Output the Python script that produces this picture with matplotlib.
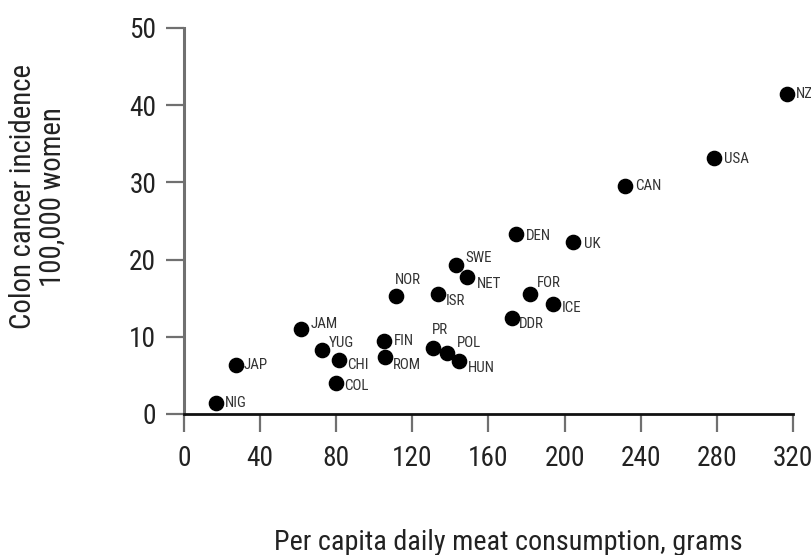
import matplotlib
matplotlib.use('Agg')
import matplotlib.pyplot as plt
from matplotlib import font_manager
from matplotlib.font_manager import FontProperties
from matplotlib.textpath import TextPath

# Meat consumption (g/day) vs colon cancer incidence per 100,000 women
countries = ['NIG', 'JAP', 'JAM', 'YUG', 'CHI', 'COL', 'FIN', 'ROM', 'PR', 'POL',
             'HUN', 'NOR', 'ISR', 'SWE', 'NET', 'DEN', 'UK', 'FOR', 'ICE', 'DDR',
             'CAN', 'USA', 'NZ']
meat = [16.8, 27.3, 61.5, 72.5, 81.5, 79.9, 105.1, 105.6, 130.8, 138.2,
        144.5, 111.4, 133.5, 142.9, 148.7, 174.5, 204.4, 181.8, 193.9, 172.4,
        231.7, 278.5, 316.9]
incidence = [1.4, 6.3, 11.0, 8.3, 7.0, 4.0, 9.5, 7.4, 8.5, 7.9,
             6.9, 15.3, 15.5, 19.3, 17.7, 23.3, 22.3, 15.5, 14.2, 12.4,
             29.5, 33.2, 41.5]

x_ticks = [0, 40, 80, 120, 160, 200, 240, 280, 320]
y_ticks = [0, 10, 20, 30, 40, 50]

# label offsets from each dot, in pixels
label_offsets = [(9, 0), (8, 0), (10, 5), (7, 7), (8, -5), (8, -3), (10, 0), (8, -8),
                 (-1, 18), (10, 10), (9, -7), (-1, 16), (8, -7), (9, 7), (10, -7),
                 (10, -2), (11, -2), (7, 11), (9, -4), (7, -6), (10, 0), (10, -1),
                 (9, 0)]


def pick_font():
    # prefer a narrow regular sans, fall back to condensed DejaVu
    fonts = font_manager.fontManager.ttflist
    for want in ['Liberation Sans Narrow', 'Roboto Condensed', 'Open Sans Condensed',
                 'Noto Sans Condensed', 'DejaVu Sans Condensed']:
        for f in fonts:
            if f.name == want and f.weight in (400, 'normal', 'regular') and f.style == 'normal':
                return FontProperties(fname=f.fname)
    for f in fonts:
        if f.stretch == 'condensed' and f.style == 'normal' and f.weight in (400, 'normal'):
            return FontProperties(fname=f.fname)
    for f in fonts:
        if f.name == 'DejaVu Sans' and 'Condensed' in f.fname and 'Bold' not in f.fname \
                and 'Oblique' not in f.fname:
            return FontProperties(fname=f.fname)
    return FontProperties(family='DejaVu Sans')


def fit_size(fp, text, width_px, height_px, ref='E'):
    # font size (pt) so the text ink fits the given pixel width and cap height
    w = TextPath((0, 0), text, size=100, prop=fp).get_extents().width
    h = TextPath((0, 0), ref, size=100, prop=fp).get_extents().height
    return min(width_px * 72 / w, height_px * 72 / h)


fp = pick_font()
tick_size = fit_size(fp, '120', 38, 20, ref='0')
xlabel_size = fit_size(fp, 'Per capita daily meat consumption, grams', 471, 20, ref='P')
ylabel_size = fit_size(fp, 'Colon cancer incidence', 283, 21, ref='C')
point_size = fit_size(fp, 'DEN', 23, 13)

fig = plt.figure(figsize=(8.12, 5.55), dpi=100)
ax = fig.add_axes([184 / 812, 1 - 414 / 555, (793 - 184) / 812, (414 - 28) / 555])

ax.scatter(meat, incidence, s=105, color='black', zorder=3, clip_on=False)

for name, x, y, off in zip(countries, meat, incidence, label_offsets):
    ax.annotate(name, (x, y), xytext=off, textcoords='offset pixels',
                ha='left', va='center', fontproperties=fp, fontsize=point_size,
                color='#333333', annotation_clip=False)

ax.set_xlim(0, 320)
ax.set_ylim(0, 50)
ax.set_xticks(x_ticks)
ax.set_yticks(y_ticks)

for side in ['top', 'right']:
    ax.spines[side].set_visible(False)
ax.spines['left'].set_color('#707070')
ax.spines['left'].set_linewidth(2.2)
ax.spines['bottom'].set_color('#111111')
ax.spines['bottom'].set_linewidth(2.0)

ax.tick_params(axis='both', direction='out', length=13, width=1.6,
               color='#707070', labelcolor='#222222')
ax.tick_params(axis='y', pad=7)
ax.tick_params(axis='x', pad=9)
for lab in ax.get_xticklabels() + ax.get_yticklabels():
    lab.set_fontproperties(fp)
    lab.set_fontsize(tick_size)

fig.text(508 / 812, 5 / 555, 'Per capita daily meat consumption, grams',
         ha='center', va='baseline', fontproperties=fp, fontsize=xlabel_size,
         color='#222222')
fig.text(38 / 812, 1 - 197 / 555, 'Colon cancer incidence\n100,000 women',
         ha='center', va='center', rotation=90, multialignment='center',
         fontproperties=fp, fontsize=ylabel_size, color='#222222', linespacing=1.05)

fig.savefig('out.png', dpi=100)
